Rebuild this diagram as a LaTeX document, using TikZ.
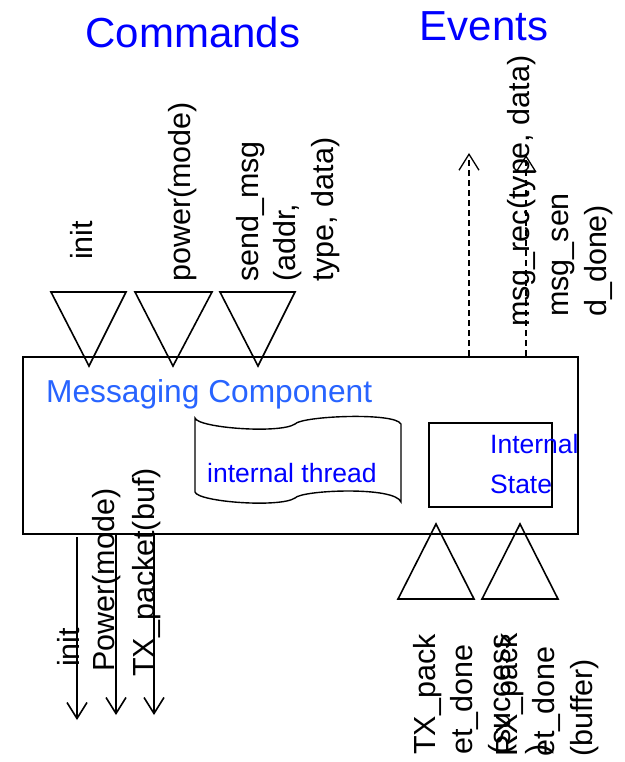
\documentclass[tikz,border=0pt]{standalone}
\usepackage{fontspec}
\setmainfont{Liberation Sans}
\usetikzlibrary{arrows.meta}
\definecolor{tblue}{RGB}{0,0,255}
\definecolor{mblue}{RGB}{40,100,255}
\begin{document}
\begin{tikzpicture}[x=1pt,y=-1pt,
  lbl/.style={rotate=90, anchor=north west, inner sep=0pt, align=left, font=\fontsize{30.5}{37.5}\selectfont},
  title/.style={text=tblue, inner sep=0pt, anchor=base, font=\fontsize{42}{50}\selectfont},
  small/.style={text=tblue, inner sep=0pt, align=left, font=\fontsize{26.5}{40}\selectfont},
  tri/.style={draw, line width=1.6pt, line join=miter},
  evarrow/.style={draw, dash pattern=on 6pt off 4pt, line width=1.3pt, -{Straight Barb[length=16pt,width=20pt]}},
  cmdarrow/.style={draw, line width=1.6pt, -{Straight Barb[length=16pt,width=20pt]}}]
\fill[white] (0,0) rectangle (624,762);
\useasboundingbox (0,0) rectangle (624,762);

% titles
\node[title] (cmds) at (193,48) {Commands};
\node[title] (evts) at (484,41) {Events};

% main component box
\node[draw, line width=2pt, anchor=north west, inner sep=0pt, minimum width=555pt, minimum height=177pt] (mc) at (22,356) {};
\node[anchor=base west, inner sep=0pt, text=mblue, font=\fontsize{31.7}{36}\selectfont] (mcl) at (46,402) {Messaging Component};

% internal thread (tape)
\draw[line width=1.4pt] (195,418) .. controls (198,428) and (280,434) .. (295,424)
   .. controls (302,416) and (395,412) .. (401,424) -- (401,502)
   .. controls (395,486) and (302,490) .. (295,498)
   .. controls (280,508) and (198,502) .. (195,492) -- cycle;
\node[small, anchor=base west] (ith) at (207,482) {internal thread};

% internal state
\node[draw, line width=2pt, anchor=north west, inner sep=0pt, minimum width=123pt, minimum height=84pt] (ist) at (428,422) {};
\node[small, anchor=north west] (istl) at (490,434) {Internal\\State};

% command triangles (top)
\draw[tri] (51,292) -- (126,292) -- (89,366) -- cycle;
\draw[tri] (135,292) -- (212,292) -- (173,366) -- cycle;
\draw[tri] (220,292) -- (295,292) -- (258,366) -- cycle;
\node[lbl] (l1) at (70,260) {init};
\node[lbl] (l2) at (168,282) {power(mode)};
\node[lbl] (l3) at (236,282) {send\_msg\\(addr,\\type, data)};

% event arrows (top)
\coordinate (e1) at (469,153);
\coordinate (e2) at (526,155);
\draw[evarrow] (mc.north -| e1) -- (e1);
\draw[evarrow] (mc.north -| e2) -- (e2);
\node[lbl] (l4) at (507,327) {msg\_rec(type, data)};
\node[lbl] (l5) at (552,317) {msg\_sen\\d\_done)};

% outgoing command arrows (bottom)
\coordinate (c1) at (77,720);
\coordinate (c2) at (116,715);
\coordinate (c3) at (154,715);
\draw[cmdarrow] (77,537) -- (c1);
\draw[cmdarrow] (mc.south -| c2) -- (c2);
\draw[cmdarrow] (mc.south -| c3) -- (c3);
\node[lbl] (l6) at (57,667) {init};
\node[lbl] (l7) at (92,672) {Power(mode)};
\node[lbl] (l8) at (132,677) {TX\_packet(buf)};

% incoming event triangles (bottom)
\draw[tri] (398,599) -- (474,599) -- (436,524) -- cycle;
\draw[tri] (482,599) -- (558,599) -- (520,524) -- cycle;
\node[lbl] (l9) at (413,755) {TX\_pack\\et\_done\\(success\\)};
\node[lbl] (l10) at (495,757) {RX\_pack\\et\_done\\(buffer)};
\end{tikzpicture}
\end{document}
